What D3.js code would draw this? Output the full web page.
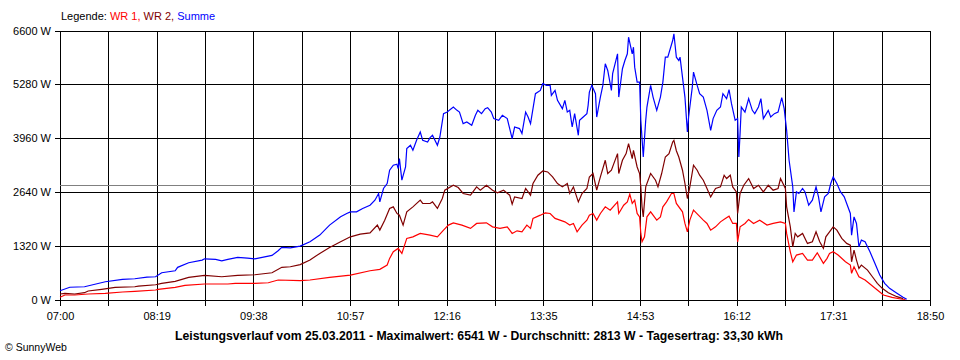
<!DOCTYPE html>
<html>
<head>
<meta charset="utf-8">
<script src="https://cdn.jsdelivr.net/npm/d3@7"></script>
<style>
  html, body { margin: 0; padding: 0; background: #fff; }
  svg { display: block; font-family: "Liberation Sans", Arial, sans-serif; }
</style>
</head>
<body>
<svg id="chart" width="960" height="360"></svg>
<script>
// ---------------- DATA ----------------
const seriesNames = ["WR 1", "WR 2", "Summe"];
const seriesColors = ["#ff0000", "#800000", "#0000ff"];

const xTickLabels = ["07:00", "08:19", "09:38", "10:57", "12:16", "13:35", "14:53", "16:12", "17:31", "18:50"];
const yTickValues = [0, 1320, 2640, 3960, 5280, 6600];
const averageValue = 2813;

const captionText = "Leistungsverlauf vom 25.03.2011 - Maximalwert: 6541 W - Durchschnitt: 2813 W - Tagesertrag: 33,30 kWh";

const wr1Times = ["07:00","07:04","07:12","07:23","07:37","07:51","08:01","08:18","08:20","08:34","08:42","08:58","09:17","09:23","09:39","09:50","09:58","10:16","10:24","10:40","10:57","11:13","11:21","11:27","11:29","11:32","11:36","11:39","11:43","11:48","11:54","12:02","12:08","12:13","12:17","12:21","12:28","12:35","12:40","12:48","12:53","12:59","13:05","13:09","13:13","13:17","13:21","13:24","13:26","13:32","13:36","13:40","13:44","13:48","13:52","13:56","13:59","14:02","14:06","14:10","14:12","14:15","14:18","14:21","14:25","14:29","14:35","14:36","14:40","14:43","14:45","14:47","14:49","14:51","14:53","14:54","14:55","14:57","14:59","15:02","15:07","15:10","15:12","15:15","15:19","15:21","15:23","15:28","15:30","15:32","15:34","15:37","15:41","15:45","15:48","15:51","15:55","15:59","16:03","16:06","16:09","16:12","16:13","16:15","16:19","16:22","16:26","16:31","16:37","16:42","16:48","16:52","16:53","16:56","16:58","17:01","17:06","17:10","17:14","17:18","17:23","17:26","17:28","17:31","17:35","17:41","17:45","17:46","17:48","17:50","17:52","17:57","18:01","18:07","18:12","18:19","18:26","18:30"];
const wr1Values = [54,110,110,135,152,184,201,233,250,299,348,380,380,397,397,411,478,465,478,544,600,705,740,845,1009,1171,1254,1131,1499,1538,1621,1580,1538,1702,1825,1881,1825,1744,1866,1881,1783,1744,1783,1621,1685,1660,1825,1744,1989,2069,2126,2111,1989,1947,1905,1825,1866,1660,1825,1947,2069,2111,1947,2111,2273,2192,2395,2111,2314,2395,2584,2356,2437,2111,2028,1621,1416,1538,2028,2150,1947,2028,2273,2395,2601,2601,2356,2150,1866,1660,1947,2192,2069,1947,1866,1702,1783,1905,1989,2045,1866,1866,1416,1783,1866,1964,1866,1947,1825,1866,1905,1866,1621,1171,926,1090,1131,967,967,1146,887,1009,1131,1171,1090,926,845,642,803,681,558,478,380,233,110,54,12,5];

const wr2Times = ["07:00","07:04","07:12","07:20","07:23","07:34","07:45","08:01","08:04","08:18","08:23","08:34","08:45","08:58","09:12","09:25","09:39","09:53","10:01","10:08","10:16","10:24","10:32","10:40","10:49","10:57","11:05","11:13","11:19","11:21","11:25","11:29","11:32","11:35","11:37","11:40","11:43","11:48","11:54","11:56","12:02","12:04","12:08","12:12","12:14","12:21","12:25","12:29","12:35","12:40","12:43","12:48","12:53","12:57","13:02","13:07","13:09","13:11","13:17","13:20","13:24","13:26","13:30","13:34","13:38","13:42","13:46","13:50","13:54","13:56","13:59","14:03","14:06","14:10","14:12","14:15","14:18","14:21","14:25","14:27","14:30","14:35","14:36","14:39","14:42","14:44","14:47","14:48","14:51","14:53","14:54","14:55","14:56","14:58","15:02","15:06","15:08","15:11","15:14","15:17","15:20","15:21","15:23","15:25","15:28","15:30","15:32","15:34","15:37","15:40","15:42","15:45","15:48","15:51","15:55","15:59","16:02","16:04","16:07","16:09","16:12","16:13","16:15","16:18","16:22","16:26","16:30","16:34","16:38","16:42","16:46","16:48","16:52","16:53","16:56","16:58","17:00","17:02","17:06","17:10","17:14","17:17","17:20","17:23","17:25","17:28","17:31","17:34","17:38","17:42","17:45","17:46","17:48","17:50","17:52","17:54","17:59","18:03","18:07","18:11","18:16","18:23","18:28"];
const wr2Values = [135,152,135,167,208,250,299,313,330,362,397,446,544,593,558,593,607,656,789,803,857,967,1131,1278,1416,1538,1604,1636,1825,1702,1947,2234,2273,2111,2069,1825,2150,2273,2437,2356,2356,2395,2234,2478,2682,2804,2748,2601,2559,2763,2682,2804,2682,2616,2682,2559,2339,2518,2478,2723,2559,2846,3049,3154,3130,3007,2846,2763,2846,2601,2763,2395,2601,2723,3007,3091,2682,3007,3416,3091,3171,3580,3091,3416,3580,3825,3458,3661,3252,3091,2763,2273,2028,2763,3091,2927,2763,3091,3497,3580,3865,3906,3650,3497,3171,2846,2478,2763,3294,3171,3049,2927,2723,2518,2723,2763,3049,2968,3049,2763,2640,2111,2601,2804,2968,2723,2804,2640,2804,2682,2723,2968,2723,2273,1783,1293,1621,1538,1621,1376,1416,1660,1416,1254,1538,1660,1783,1702,1499,1376,1335,926,1212,967,764,845,722,558,397,274,167,69,20];

const sumTimes = ["07:00","07:08","07:20","07:37","07:51","08:01","08:11","08:18","08:23","08:34","08:36","08:45","08:56","08:58","09:07","09:12","09:17","09:25","09:33","09:39","09:45","09:53","09:58","10:01","10:08","10:16","10:24","10:32","10:40","10:49","10:54","10:57","11:02","11:07","11:13","11:17","11:20","11:21","11:24","11:27","11:29","11:32","11:35","11:36","11:37","11:39","11:42","11:43","11:46","11:48","11:51","11:54","11:56","12:00","12:02","12:04","12:08","12:10","12:13","12:16","12:21","12:24","12:26","12:29","12:32","12:36","12:39","12:41","12:44","12:47","12:49","12:52","12:54","12:58","13:01","13:05","13:07","13:09","13:11","13:15","13:17","13:20","13:22","13:24","13:26","13:28","13:32","13:34","13:37","13:40","13:41","13:44","13:46","13:50","13:52","13:54","13:56","13:58","14:00","14:03","14:04","14:07","14:10","14:11","14:12","14:14","14:17","14:18","14:21","14:23","14:25","14:27","14:30","14:31","14:35","14:36","14:39","14:41","14:43","14:44","14:47","14:48","14:49","14:51","14:53","14:54","14:56","14:58","14:59","15:02","15:04","15:07","15:10","15:12","15:14","15:16","15:20","15:21","15:23","15:25","15:26","15:28","15:30","15:32","15:33","15:36","15:37","15:40","15:42","15:45","15:48","15:51","15:53","15:56","15:59","16:01","16:04","16:06","16:08","16:11","16:13","16:14","16:15","16:16","16:19","16:22","16:25","16:27","16:30","16:32","16:34","16:38","16:40","16:43","16:46","16:49","16:51","16:53","16:55","16:58","16:59","17:01","17:03","17:06","17:08","17:11","17:14","17:17","17:19","17:21","17:24","17:27","17:29","17:31","17:34","17:37","17:40","17:42","17:45","17:46","17:48","17:50","17:52","17:54","17:57","18:01","18:05","18:09","18:13","18:17","18:23","18:28","18:31"];
const sumValues = [215,300,313,436,495,509,551,558,656,705,789,901,967,999,985,950,985,1033,1016,999,1033,1082,1195,1278,1269,1310,1416,1580,1825,2028,2111,2150,2150,2234,2314,2437,2601,2395,2723,2846,3171,3294,3318,3213,3458,2927,3252,3703,3784,3661,3906,4109,3906,3865,3972,4029,3784,3987,4560,4599,4722,4641,4599,4315,4354,4274,4518,4641,4560,4682,4707,4599,4438,4396,4518,4438,4193,3948,4232,4193,4070,4599,4477,4315,4682,5050,5131,5295,5253,5253,5008,5131,4886,4682,4886,4599,4641,4232,4560,4029,4396,4477,4560,4763,5089,5253,5050,4477,4967,5253,5785,5620,5131,5540,6029,4967,5662,5865,6029,6436,6029,6191,5701,5334,5334,4396,3500,4396,4722,5253,4967,4641,4967,5334,5946,5946,6355,6519,5946,5865,5946,5456,4967,4109,4477,5211,5579,5253,5050,4967,4641,4151,4438,4641,4722,5050,4927,5148,4805,4396,4438,3497,4070,4722,4599,4927,4641,4560,4722,4927,4438,4641,4477,4560,4599,4952,4682,4151,3416,2763,2150,2640,2601,2723,2640,2314,2437,2763,2518,2150,2518,2601,2846,3007,2846,2640,2518,2356,2111,1580,2028,1866,1293,1457,1416,1171,887,600,397,274,152,54,5];

// ---------------- CHART ----------------
const toMin = s => { const p = s.split(":"); return +p[0] * 60 + +p[1]; };
const svg = d3.select("#chart");

const plotLeft = 60, plotRight = 930, plotTop = 30.5, plotBottom = 299.5;
const startMin = toMin(xTickLabels[0]), endMin = toMin(xTickLabels[xTickLabels.length - 1]);
const x = d3.scaleLinear().domain([startMin, endMin]).range([plotLeft, plotRight]);
const y = d3.scaleLinear().domain([0, d3.max(yTickValues)]).range([plotBottom, plotTop]);

// vertical grid positions: 18 equal intervals, labels on every second
const nGrid = (xTickLabels.length - 1) * 2;
const gridMinutes = d3.range(nGrid + 1).map(i => startMin + i * (endMin - startMin) / nGrid);

const xAxis = d3.axisBottom(x)
  .tickValues(gridMinutes)
  .tickSizeInner(-(plotBottom - plotTop))
  .tickSizeOuter(0)
  .tickPadding(13)
  .tickFormat((d, i) => (i % 2 === 0 ? xTickLabels[i / 2] : ""));

const gx = svg.append("g").attr("transform", `translate(0,${plotBottom})`).call(xAxis);
gx.select(".domain").remove();
gx.selectAll(".tick line").attr("y1", 6).attr("stroke", "#000").attr("shape-rendering", "crispEdges");
gx.selectAll(".tick text").attr("font-size", 11).attr("fill", "#000")
  .attr("font-family", "Liberation Sans, Arial, sans-serif");

const yAxis = d3.axisLeft(y)
  .tickValues(yTickValues)
  .tickSizeInner(-(plotRight - plotLeft))
  .tickSizeOuter(0)
  .tickPadding(9)
  .tickFormat(d => `${d} W`);

const gy = svg.append("g").attr("transform", `translate(${plotLeft},0)`).call(yAxis);
gy.select(".domain").remove();
gy.selectAll(".tick line").attr("x1", -5).attr("stroke", "#000").attr("shape-rendering", "crispEdges");
gy.selectAll(".tick text").attr("font-size", 11).attr("fill", "#000")
  .attr("font-family", "Liberation Sans, Arial, sans-serif");

// average line
svg.append("line")
  .attr("x1", plotLeft).attr("x2", plotRight)
  .attr("y1", Math.round(y(averageValue)) + 0.5).attr("y2", Math.round(y(averageValue)) + 0.5)
  .attr("stroke", "#808080").attr("stroke-width", 1);

// series
const seriesData = [
  wr1Times.map((t, i) => [toMin(t), wr1Values[i]]),
  wr2Times.map((t, i) => [toMin(t), wr2Values[i]]),
  sumTimes.map((t, i) => [toMin(t), sumValues[i]])
];
const line = d3.line().x(d => x(d[0])).y(d => y(d[1]));
seriesData.forEach((data, k) => {
  svg.append("path")
    .datum(data)
    .attr("d", line)
    .attr("fill", "none")
    .attr("stroke", seriesColors[k])
    .attr("stroke-width", 1.2)
    .attr("stroke-linejoin", "miter");
});

// legend
const legend = svg.append("text").attr("x", 61).attr("y", 20).attr("font-size", 11);
legend.append("tspan").attr("fill", "#000").text("Legende: ");
seriesNames.forEach((n, i) => {
  legend.append("tspan").attr("fill", seriesColors[i]).text(n + (i < seriesNames.length - 1 ? ", " : ""));
});

// caption
svg.append("text")
  .attr("x", 479).attr("y", 340)
  .attr("text-anchor", "middle")
  .attr("font-size", 12).attr("font-weight", "bold")
  .attr("textLength", 608).attr("lengthAdjust", "spacingAndGlyphs")
  .attr("fill", "#000")
  .text(captionText);

// copyright
svg.append("text")
  .attr("x", 5).attr("y", 351)
  .attr("font-size", 10.5)
  .attr("fill", "#000")
  .text("\u00A9 SunnyWeb");
</script>
</body>
</html>
